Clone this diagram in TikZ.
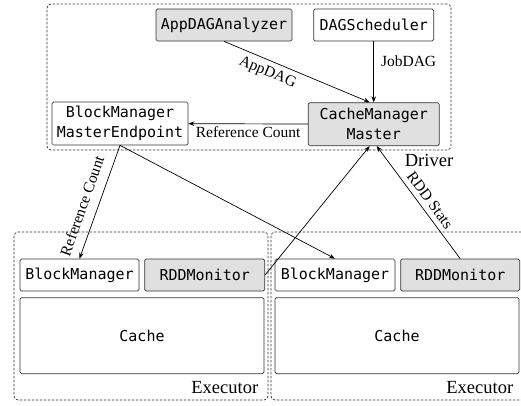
\documentclass[tikz,border=0pt]{standalone}
\usepackage{fontspec}
\setmainfont{Liberation Serif}
\setmonofont{DejaVu Sans Mono}
\usepackage{tikz}
\usetikzlibrary{arrows.meta, positioning, calc, backgrounds}
\definecolor{boxgrey}{HTML}{E0E0E0}

\begin{document}
\begin{tikzpicture}[
    x=1pt, y=-1pt,
    every node/.style={font=\fontsize{15.5}{18}\selectfont},
    comp/.style={rectangle, draw=black!80, line width=0.7pt, fill=white, rounded corners=1.5pt, inner sep=2pt, minimum height=32pt, align=center, font=\ttfamily\fontsize{15}{20}\selectfont},
    compgrey/.style={comp, fill=boxgrey},
    groupbox/.style={rectangle, draw=black!80, line width=0.7pt, dash pattern=on 2.5pt off 1.5pt, rounded corners=4pt, inner sep=0pt},
    grouplabel/.style={font=\fontsize{18.5}{22}\selectfont, inner sep=0pt},
    arrow/.style={-{Stealth[length=6pt, width=4.5pt]}, line width=0.7pt},
    edgelabel/.style={font=\fontsize{15.5}{18}\selectfont, inner sep=2pt}
]

\useasboundingbox (0,0) rectangle (521,405);

% Driver side
\node[compgrey, minimum width=136pt] (appdag) at (224,25) {AppDAGAnalyzer};
\node[comp, minimum width=120pt, right=21pt of appdag] (dagsched) {DAGScheduler};
\node[compgrey, minimum width=131pt, minimum height=43pt, below=61pt of dagsched] (cmm) {CacheManager\\Master};
\node[comp, minimum width=136pt, minimum height=43pt] (bmme) at (120,123.5) {BlockManager\\MasterEndpoint};

% Executor 1
\node[comp, minimum width=119pt] (bm1) at (79.5,275) {BlockManager};
\node[compgrey, minimum width=120pt, right=5pt of bm1] (rdd1) {RDDMonitor};
\node[comp, minimum width=244pt, minimum height=76pt, below right=6pt and 0pt of bm1.south west] (cache1) {Cache};

% Executor 2
\node[comp, minimum width=120pt] (bm2) at (335,275) {BlockManager};
\node[compgrey, minimum width=119pt, right=5pt of bm2] (rdd2) {RDDMonitor};
\node[comp, minimum width=244pt, minimum height=76pt, below right=6pt and 0pt of bm2.south west] (cache2) {Cache};

% Group boxes
\begin{scope}[on background layer]
    \node[groupbox, minimum width=404pt, minimum height=146pt] (driver) at (249,77) {};
    \node[groupbox, minimum width=254pt, minimum height=168pt] (exec1) at (141,316) {};
    \node[groupbox, minimum width=254pt, minimum height=168pt] (exec2) at (398,316) {};
\end{scope}

\node[grouplabel, anchor=base east] (driverlabel) at ([xshift=2pt, yshift=-16pt]driver.south east) {Driver};
\node[grouplabel, anchor=base east] (exec1label) at ([xshift=-10pt, yshift=7pt]exec1.south east) {Executor};
\node[grouplabel, anchor=base east] (exec2label) at ([xshift=-12pt, yshift=7pt]exec2.south east) {Executor};

% Arrows - inside driver
\draw[arrow] (appdag.south) -- ([xshift=-4pt]cmm.north) node[edgelabel, sloped, below=3pt, pos=0.33] {AppDAG};
\draw[arrow] (dagsched) -- (cmm) node[edgelabel, right=5pt, pos=0.32] {JobDAG};
\draw[arrow] (cmm) -- (bmme) node[edgelabel, below, midway] {Reference Count};

% Arrows - driver to executors
\draw[arrow] (bmme.south) -- (bm1.north);
\draw[arrow] (bmme.south) -- (bm2.north);
\node[edgelabel, rotate=70.4] (refcount) at (82,206) {Reference Count};

% Arrows - executors to driver
\draw[arrow] (rdd1.east) -- ([xshift=-4pt]cmm.south);
\draw[arrow] (rdd2.north) -- ([xshift=3pt]cmm.south);
\node[edgelabel, rotate=-53.6] (rddstats) at (430,200) {RDD Stats};

\end{tikzpicture}
\end{document}
